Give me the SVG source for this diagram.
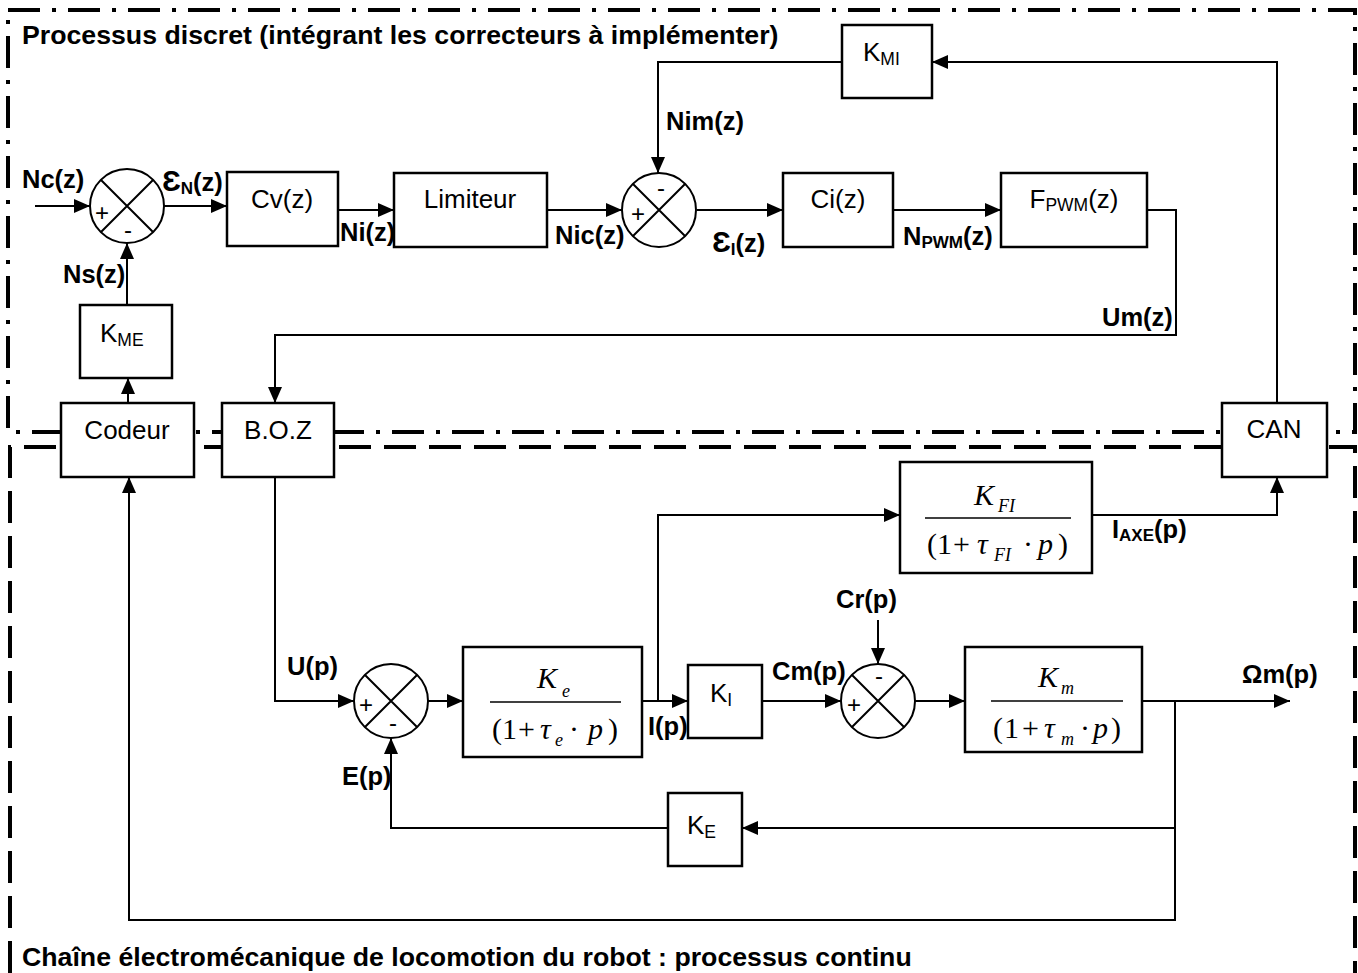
<svg xmlns="http://www.w3.org/2000/svg" width="1358" height="973" viewBox="0 0 1358 973">
<defs>
<marker id="ah" markerUnits="userSpaceOnUse" markerWidth="16" markerHeight="14" refX="16" refY="7" orient="auto">
<path d="M0,0 L16,7 L0,14 z" fill="#000"/>
</marker>
<style>
.box{fill:#fff;stroke:#000;stroke-width:2.5}
.sum{fill:#fff;stroke:#000;stroke-width:2}
.ln{fill:none;stroke:#000;stroke-width:2}
.arr{fill:none;stroke:#000;stroke-width:2;marker-end:url(#ah)}
.frac{stroke:#000;stroke-width:1.5}
.dd{fill:none;stroke:#000;stroke-width:4;stroke-dasharray:32 12 4 12}
.da{fill:none;stroke:#000;stroke-width:4;stroke-dasharray:32 13}
.t{font-family:"Liberation Sans",Arial,sans-serif;font-size:26px;fill:#000}
.ts{font-size:17.5px}
.b{font-family:"Liberation Sans",Arial,"DejaVu Sans",sans-serif;font-size:25.5px;font-weight:bold;fill:#000}
.bs{font-size:17px}
.eps{font-size:30px}
.ttl{font-family:"Liberation Sans",Arial,sans-serif;font-size:26.7px;font-weight:bold;fill:#000}
.m{font-family:"Liberation Serif","Times New Roman",serif;font-size:30px;fill:#000}
.mi{font-style:italic}
.ms{font-family:"Liberation Serif","Times New Roman",serif;font-size:18px;font-style:italic;fill:#000}
.sg{font-family:"Liberation Sans",Arial,sans-serif;font-size:24px;fill:#000;text-anchor:middle}
</style>
</defs>

<g id="borders">
<rect class="dd" x="8" y="10" width="1347" height="422"/>
<path class="da" d="M10,973 V447 H1355 V973"/>
</g>

<text class="ttl" x="22" y="44">Processus discret (intégrant les correcteurs à implémenter)</text>
<text class="ttl" x="22" y="966">Chaîne électromécanique de locomotion du robot : processus continu</text>

<g id="connectors">
<path class="arr" d="M35,206 H90"/>
<path class="arr" d="M164,206 H227"/>
<path class="arr" d="M338,210 H394"/>
<path class="arr" d="M547,210 H622"/>
<path class="arr" d="M697,210 H783"/>
<path class="arr" d="M893,210 H1001"/>
<path class="arr" d="M1147,210 H1176 V335 H275 V403"/>
<path class="arr" d="M1277,403 V62 H932"/>
<path class="arr" d="M842,62 H658 V173"/>
<path class="arr" d="M128,403 V378"/>
<path class="arr" d="M127,305 V243"/>
<path class="arr" d="M275,477 V701 H354"/>
<path class="arr" d="M428,701 H463"/>
<path class="arr" d="M642,701 H688"/>
<path class="arr" d="M658,701 V515 H900"/>
<path class="arr" d="M1092,515 H1277 V477"/>
<path class="arr" d="M762,701 H841"/>
<path class="arr" d="M878,620 V664"/>
<path class="arr" d="M915,701 H965"/>
<path class="arr" d="M1142,701 H1290"/>
<path class="arr" d="M1175,701 V920 H129 V477"/>
<path class="arr" d="M1175,828 H742"/>
<path class="arr" d="M668,828 H391 V738"/>
</g>

<g id="sum1">
<circle class="sum" cx="127" cy="206" r="37"/>
<path class="ln" d="M101,180 L153,232 M153,180 L101,232"/>
<text class="sg" x="102" y="221">+</text>
<text class="sg" x="128" y="238">-</text>
</g>
<g id="sum2">
<circle class="sum" cx="659" cy="210" r="37"/>
<path class="ln" d="M633,184 L685,236 M685,184 L633,236"/>
<text class="sg" x="638" y="222">+</text>
<text class="sg" x="661" y="196">-</text>
</g>
<g id="sum3">
<circle class="sum" cx="391" cy="701" r="37"/>
<path class="ln" d="M365,675 L417,727 M417,675 L365,727"/>
<text class="sg" x="366" y="713">+</text>
<text class="sg" x="393" y="731">-</text>
</g>
<g id="sum4">
<circle class="sum" cx="878" cy="701" r="37"/>
<path class="ln" d="M852,675 L904,727 M904,675 L852,727"/>
<text class="sg" x="854" y="713">+</text>
<text class="sg" x="879" y="684">-</text>
</g>

<g id="cv"><rect class="box" x="227" y="172" width="111" height="74"/><text class="t" x="282" y="208" text-anchor="middle">Cv(z)</text></g>
<g id="limiteur"><rect class="box" x="394" y="173" width="153" height="74"/><text class="t" x="470" y="208" text-anchor="middle">Limiteur</text></g>
<g id="ci"><rect class="box" x="783" y="173" width="110" height="74"/><text class="t" x="838" y="208" text-anchor="middle">Ci(z)</text></g>
<g id="fpwm"><rect class="box" x="1001" y="173" width="146" height="74"/><text class="t" x="1074" y="208" text-anchor="middle">F<tspan class="ts" dy="3">PWM</tspan><tspan dy="-3">(z)</tspan></text></g>
<g id="kmi"><rect class="box" x="842" y="25" width="90" height="73"/><text class="t" x="863" y="61">K<tspan class="ts" dy="4">MI</tspan></text></g>
<g id="kme"><rect class="box" x="80" y="305" width="92" height="73"/><text class="t" x="100" y="342">K<tspan class="ts" dy="4">ME</tspan></text></g>
<g id="codeur"><rect class="box" x="61" y="403" width="133" height="74"/><text class="t" x="127" y="439" text-anchor="middle">Codeur</text></g>
<g id="boz"><rect class="box" x="222" y="403" width="112" height="74"/><text class="t" x="278" y="439" text-anchor="middle">B.O.Z</text></g>
<g id="can"><rect class="box" x="1222" y="403" width="105" height="74"/><text class="t" x="1274" y="438" text-anchor="middle">CAN</text></g>
<g id="ki"><rect class="box" x="688" y="665" width="74" height="73"/><text class="t" x="710" y="702">K<tspan class="ts" dy="4">I</tspan></text></g>
<g id="ke"><rect class="box" x="668" y="793" width="74" height="73"/><text class="t" x="687" y="834">K<tspan class="ts" dy="4">E</tspan></text></g>

<g id="kfi">
<rect class="box" x="900" y="462" width="192" height="111"/>
<line class="frac" x1="925" y1="518" x2="1071" y2="518"/>
<text class="m mi" x="974" y="505">K</text><text class="ms" x="998" y="512">FI</text>
<text class="m" x="927" y="554">(</text><text class="m" x="937" y="554">1</text><text class="m" x="953" y="554">+</text>
<text class="m mi" x="977" y="554">τ</text><text class="ms" x="994" y="561">FI</text>
<text class="m" x="1023" y="554">·</text><text class="m mi" x="1038" y="554">p</text><text class="m" x="1058" y="554">)</text>
</g>

<g id="kelec">
<rect class="box" x="463" y="647" width="179" height="110"/>
<line class="frac" x1="490" y1="702" x2="621" y2="702"/>
<text class="m mi" x="537" y="688">K</text><text class="ms" x="562" y="697">e</text>
<text class="m" x="492" y="739">(</text><text class="m" x="502" y="739">1</text><text class="m" x="518" y="739">+</text>
<text class="m mi" x="540" y="739">τ</text><text class="ms" x="555" y="746">e</text>
<text class="m" x="569" y="739">·</text><text class="m mi" x="588" y="739">p</text><text class="m" x="608" y="739">)</text>
</g>

<g id="kmeca">
<rect class="box" x="965" y="647" width="177" height="105"/>
<line class="frac" x1="991" y1="701" x2="1123" y2="701"/>
<text class="m mi" x="1038" y="687">K</text><text class="ms" x="1061" y="694">m</text>
<text class="m" x="993" y="738">(</text><text class="m" x="1004" y="738">1</text><text class="m" x="1022" y="738">+</text>
<text class="m mi" x="1044" y="738">τ</text><text class="ms" x="1061" y="745">m</text>
<text class="m" x="1080" y="738">·</text><text class="m mi" x="1093" y="738">p</text><text class="m" x="1111" y="738">)</text>
</g>

<g id="labels">
<text class="b" x="22" y="188">Nc(z)</text>
<text class="b" x="162" y="191"><tspan class="eps">Ɛ</tspan><tspan class="bs" dy="3">N</tspan><tspan dy="-3">(z)</tspan></text>
<text class="b" x="340" y="241">Ni(z)</text>
<text class="b" x="555" y="244">Nic(z)</text>
<text class="b" x="666" y="130">Nim(z)</text>
<text class="b" x="712" y="252"><tspan class="eps">Ɛ</tspan><tspan class="bs" dy="3">I</tspan><tspan dy="-3">(z)</tspan></text>
<text class="b" x="903" y="245">N<tspan class="bs" dy="3">PWM</tspan><tspan dy="-3">(z)</tspan></text>
<text class="b" x="1102" y="326">Um(z)</text>
<text class="b" x="63" y="283">Ns(z)</text>
<text class="b" x="287" y="675">U(p)</text>
<text class="b" x="342" y="785">E(p)</text>
<text class="b" x="648" y="735">I(p)</text>
<text class="b" x="772" y="680">Cm(p)</text>
<text class="b" x="836" y="608">Cr(p)</text>
<text class="b" x="1242" y="683">Ωm(p)</text>
<text class="b" x="1112" y="538">I<tspan class="bs" dy="3">AXE</tspan><tspan dy="-3">(p)</tspan></text>
</g>
</svg>
